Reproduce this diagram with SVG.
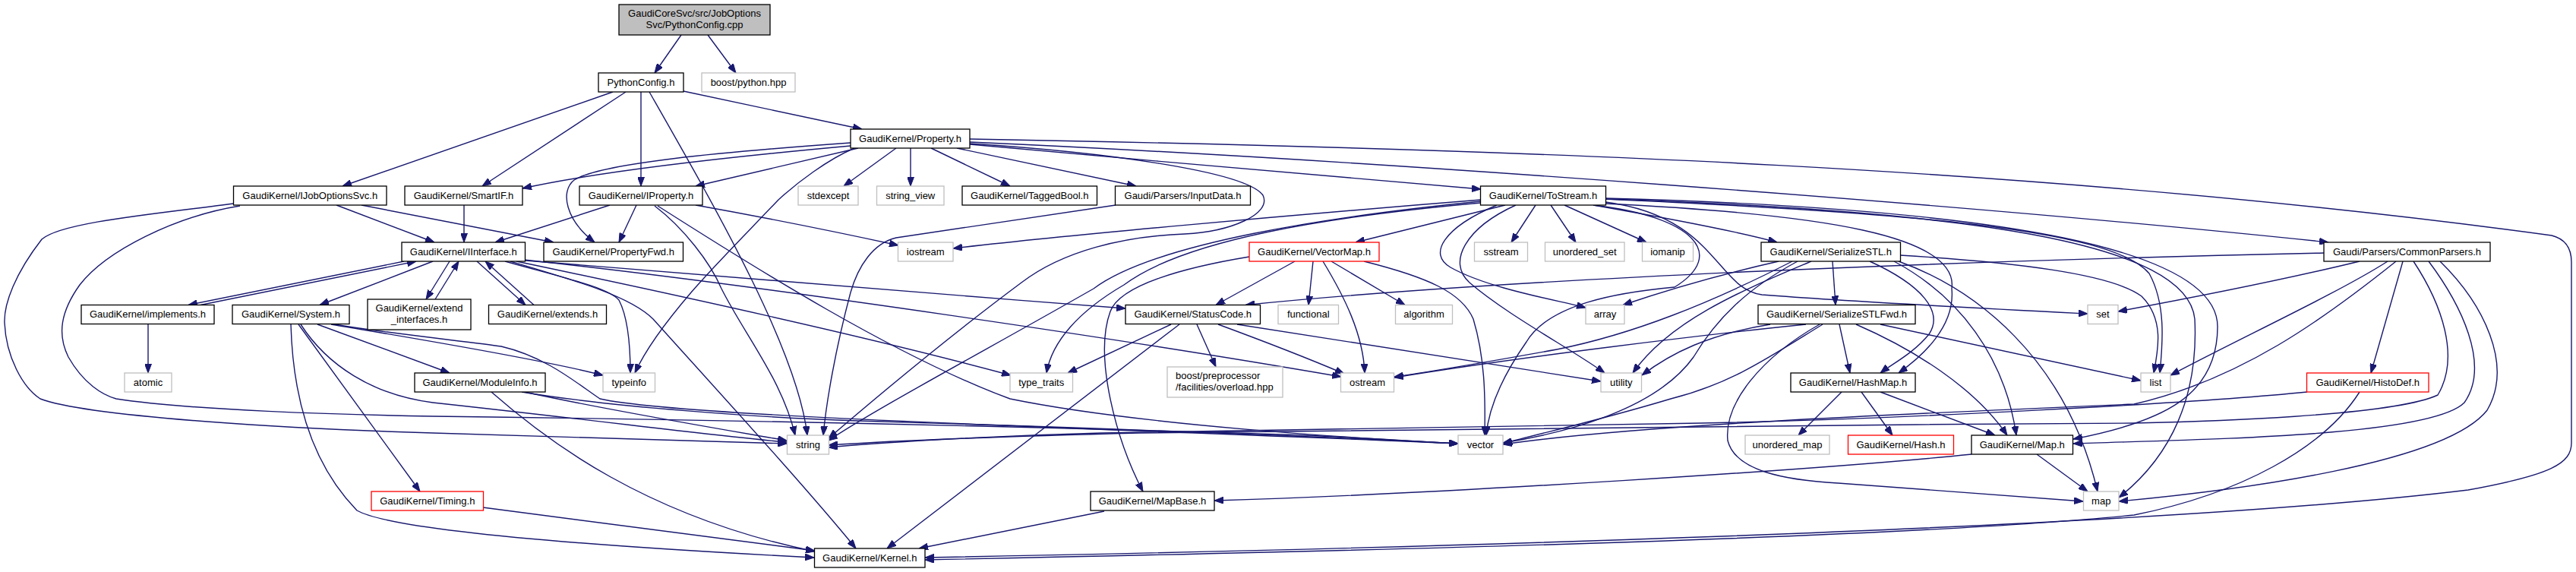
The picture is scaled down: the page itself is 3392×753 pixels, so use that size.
<svg xmlns="http://www.w3.org/2000/svg" width="3392" height="753" viewBox="0 0 3392 753">
<style>
rect{fill:#fff;stroke:#000;stroke-width:1.3}
.x rect{stroke:#bfbfbf}
.r rect{stroke:#ff0000}
.t rect{fill:#bfbfbf}
text{font-family:"Liberation Sans",Arial,Helvetica,sans-serif;font-size:13px;fill:#000;text-anchor:middle}
.l text{text-anchor:start}
#edges path{fill:none;stroke:#191970;stroke-width:1.4;marker-end:url(#ah)}
</style>
<defs>
<marker id="ah" viewBox="0 0 12 9" refX="12" refY="4.5" markerWidth="12" markerHeight="9" orient="auto" markerUnits="userSpaceOnUse">
<path d="M0,0 L12,4.5 L0,9 Z" fill="#191970" stroke="#191970" stroke-width="1"/>
</marker>
</defs>
<rect x="0" y="0" width="3392" height="753" style="fill:#fff;stroke:none"/>
<g id="edges">
<path d="M897,46 L862,96"/>
<path d="M932,46 L969,96"/>
<path d="M807,121 L451,245"/>
<path d="M824,121 L635,245"/>
<path d="M844,121 L844,245"/>
<path d="M900,120 L1135,170"/>
<path d="M855,121 C940,270 1050,460 1063,573"/>
<path d="M1130,195 L916,245"/>
<path d="M1120,188 C950,200 790,215 756,237 C737,252 745,290 783,319"/>
<path d="M1120,192 C900,212 760,232 688,248"/>
<path d="M1180,195 L1111,245"/>
<path d="M1199,195 L1199,245"/>
<path d="M1226,195 L1330,245"/>
<path d="M1260,195 L1496,245"/>
<path d="M1277,190 C1500,210 1800,237 1950,249"/>
<path d="M1277,187 C1800,210 2600,270 3066,319"/>
<path d="M1277,183 C2000,196 2700,220 3360,310 C3380,315 3386,330 3386,345 L3386,583 C3386,610 3360,625 3250,645 C2800,700 1700,725 1218,734"/>
<path d="M1125,195 C1090,210 1050,240 1025,263 C990,300 940,350 910,385 C880,420 850,460 836,491"/>
<path d="M1277,189 C1450,200 1640,225 1663,257 C1675,282 1620,305 1560,308 C1480,311 1400,330 1345,372 C1240,450 1140,535 1091,577"/>
<path d="M443,270 L572,319"/>
<path d="M476,270 L729,319"/>
<path d="M308,268 C200,282 80,293 55,315 C20,360 5,400 6,425 C8,470 30,510 53,525 C120,550 400,565 570,570 C800,578 950,582 1036,584"/>
<path d="M316,271 C230,285 140,330 105,375 C80,410 75,440 90,470 C110,505 135,520 153,525 C250,540 450,546 570,548 C900,552 1300,560 1690,572 C1800,576 1880,582 1920,584"/>
<path d="M611,270 L611,319"/>
<path d="M803,270 L652,319"/>
<path d="M838,270 L815,319"/>
<path d="M916,270 C1000,285 1100,305 1183,323"/>
<path d="M862,271 C900,300 935,345 950,380 C980,440 1030,500 1047,573"/>
<path d="M866,271 C990,350 1180,470 1330,525 C1500,560 1800,578 1920,584"/>
<path d="M532,344 L248,401.5"/>
<path d="M264,401.5 L548,344"/>
<path d="M570,344 L421,401.5"/>
<path d="M592,344 L561,394"/>
<path d="M573,394 L604,344"/>
<path d="M628,344 L692,401.5"/>
<path d="M703,401.5 L639,344"/>
<path d="M692,343 C900,358 1200,385 1482,406"/>
<path d="M665,344 C740,365 800,378 815,395 C828,420 830,460 830,491"/>
<path d="M680,344 C900,390 1150,445 1331,494"/>
<path d="M690,342 C1000,375 1500,450 1766,496"/>
<path d="M672,344 C760,370 830,390 860,420 C950,520 1060,640 1127,722"/>
<path d="M195,427 L195,491"/>
<path d="M418,427 L592,491"/>
<path d="M393,427 L553,647"/>
<path d="M383,427 C385,500 400,600 470,672 C520,700 800,720 1072,734"/>
<path d="M396,427 C430,480 490,520 570,530 C800,555 950,575 1036,582"/>
<path d="M436,427 C500,438 700,470 794,494"/>
<path d="M440,427 C520,440 620,450 660,456 C720,470 760,505 790,525 C900,550 1500,565 1920,584"/>
<path d="M647,516 C720,580 850,680 1073,726"/>
<path d="M691,516 C800,540 950,565 1036,580"/>
<path d="M687,516 C800,535 1000,550 1130,554 C1500,565 1800,578 1920,584"/>
<path d="M636,668 C800,690 950,710 1073,725"/>
<path d="M1542,427 L1406,491"/>
<path d="M1553,427 L1168,722"/>
<path d="M1576,427 L1601,483"/>
<path d="M1604,427 C1680,455 1730,475 1770,492"/>
<path d="M1629,427 L2108,502"/>
<path d="M1729,344 L1723,401.5"/>
<path d="M1753,344 L1850,401.5"/>
<path d="M1742,344 C1770,390 1795,440 1797,491"/>
<path d="M1796,344 C1880,365 1925,385 1940,420 C1955,470 1956,520 1955,573"/>
<path d="M1645,338 C1560,352 1475,375 1462,410 C1440,470 1470,580 1505,647"/>
<path d="M1705,344 L1601,401.5"/>
<path d="M1454,673 L1210,722"/>
<path d="M2596,598 C2400,618 1900,650 1599,659"/>
<path d="M2682,598 L2749,647"/>
<path d="M2425,516 L2368,573"/>
<path d="M2451,516 L2492,573"/>
<path d="M2476,516 L2627,573"/>
<path d="M2422,427 L2436,491"/>
<path d="M2444,427 C2520,460 2600,510 2643,573"/>
<path d="M2476,427 L2819,501"/>
<path d="M2396,427 C2320,470 2270,530 2275,580 C2285,620 2350,632 2420,636 C2550,645 2680,655 2743,660"/>
<path d="M2378,427 C2250,440 2000,470 1836,497"/>
<path d="M2331,427 C2250,440 2200,465 2162,494"/>
<path d="M2400,427 C2330,470 2280,505 2200,525 C2100,555 2030,570 1979,584"/>
<path d="M2413,344 L2417,401.5"/>
<path d="M2342,344 C2280,358 2200,380 2137,401.5"/>
<path d="M2360,344 C2250,400 2150,440 2050,460 C1950,478 1880,490 1836,496"/>
<path d="M2385,344 C2300,380 2200,420 2150,491"/>
<path d="M2367,344 C2300,380 2260,420 2230,470 C2180,540 2060,570 1979,583"/>
<path d="M2462,344 C2530,375 2560,410 2540,440 C2520,465 2490,480 2476,491"/>
<path d="M2494,344 C2580,390 2640,470 2655,573"/>
<path d="M2500,344 C2600,380 2720,470 2762,647"/>
<path d="M2502,336 C2650,345 2780,360 2820,390 C2850,420 2842,460 2836,491"/>
<path d="M1950,263 C1700,283 1400,310 1255,327"/>
<path d="M1982,270 L1785,319"/>
<path d="M2022,270 L1990,319"/>
<path d="M2042,270 L2075,319"/>
<path d="M2060,270 L2168,319"/>
<path d="M2098,270 C2200,288 2290,305 2340,319"/>
<path d="M1950,267 C1750,285 1560,315 1480,375 C1420,410 1385,450 1378,491"/>
<path d="M1950,265 C1750,285 1520,320 1440,380 C1300,460 1150,540 1091,580"/>
<path d="M1971,270 C1900,300 1880,335 1910,352 C1960,380 2050,395 2088,405"/>
<path d="M1996,270 C1930,300 1905,345 1935,372 C1985,415 2070,460 2113,491"/>
<path d="M2098,270 C2230,285 2275,335 2205,378 C2130,385 2040,400 2010,450 C1975,500 1960,540 1957,573"/>
<path d="M2114,266 C2260,285 2260,380 2320,388 C2450,398 2650,408 2749,413"/>
<path d="M2114,262 C2500,280 2780,300 2830,360 C2852,400 2848,450 2844,491"/>
<path d="M2114,262 C2600,278 2880,320 2890,420 C2895,520 2860,600 2790,655"/>
<path d="M2114,261 C2650,275 2920,330 2920,430 C2920,520 2850,555 2730,578"/>
<path d="M2114,268 C2400,282 2580,310 2570,380 C2575,430 2530,470 2500,491"/>
<path d="M3060,333 C2600,343 2000,365 1640,401.5"/>
<path d="M3107,344 C3000,370 2870,395 2789,410"/>
<path d="M3144,344 C3080,385 2950,445 2858,494"/>
<path d="M3164,344 L3122,491"/>
<path d="M3155,344 C3060,420 2950,500 2810,532 C2500,545 2150,560 1979,585"/>
<path d="M3178,344 C3215,400 3240,470 3210,520 C3150,548 2900,555 2810,557 C2300,560 1700,566 1500,570 C1300,575 1150,582 1091,586"/>
<path d="M3198,344 C3240,400 3280,480 3245,530 C3200,575 2900,578 2730,584"/>
<path d="M3213,344 C3270,400 3310,480 3275,540 C3220,610 2950,645 2790,660"/>
<path d="M3038,516 C2900,530 2500,552 2240,557 C1900,562 1600,566 1450,570 C1300,574 1150,583 1091,589"/>
<path d="M3107,516 C3060,590 2950,650 2810,678 C2500,710 1700,727 1218,737"/>
<path d="M1469,270 L1180,313 C1150,320 1130,350 1120,385 C1100,460 1088,530 1084,573"/>
</g>
<g id="n0" class="t"><rect x="815" y="6" width="199" height="40"/><text x="914.5" y="21.5">GaudiCoreSvc/src/JobOptions</text><text x="914.5" y="36.5">Svc/PythonConfig.cpp</text></g>
<g id="n1"><rect x="788" y="96" width="112" height="25"/><text x="844" y="112.5">PythonConfig.h</text></g>
<g id="n2" class="x"><rect x="924" y="96" width="123" height="25"/><text x="985.5" y="112.5">boost/python.hpp</text></g>
<g id="n3"><rect x="1120" y="170" width="157" height="25"/><text x="1198.5" y="186.5">GaudiKernel/Property.h</text></g>
<g id="n4"><rect x="307.5" y="245" width="201.5" height="25"/><text x="408.25" y="261.5">GaudiKernel/IJobOptionsSvc.h</text></g>
<g id="n5"><rect x="533" y="245" width="155" height="25"/><text x="610.5" y="261.5">GaudiKernel/SmartIF.h</text></g>
<g id="n6"><rect x="763" y="245" width="162" height="25"/><text x="844" y="261.5">GaudiKernel/IProperty.h</text></g>
<g id="n7" class="x"><rect x="1051" y="245" width="79" height="25"/><text x="1090.5" y="261.5">stdexcept</text></g>
<g id="n8" class="x"><rect x="1154.5" y="245" width="88.5" height="25"/><text x="1198.75" y="261.5">string_view</text></g>
<g id="n9"><rect x="1267" y="245" width="177.5" height="25"/><text x="1355.75" y="261.5">GaudiKernel/TaggedBool.h</text></g>
<g id="n10"><rect x="1468.5" y="245" width="178" height="25"/><text x="1557.5" y="261.5">Gaudi/Parsers/InputData.h</text></g>
<g id="n11"><rect x="1949.5" y="245" width="165" height="25"/><text x="2032" y="261.5">GaudiKernel/ToStream.h</text></g>
<g id="n12"><rect x="529" y="319" width="162.5" height="25"/><text x="610.25" y="335.5">GaudiKernel/IInterface.h</text></g>
<g id="n13"><rect x="716" y="319" width="183.5" height="25"/><text x="807.75" y="335.5">GaudiKernel/PropertyFwd.h</text></g>
<g id="n14" class="x"><rect x="1182.5" y="319" width="72.5" height="25"/><text x="1218.75" y="335.5">iostream</text></g>
<g id="n15" class="r"><rect x="1645" y="319" width="171" height="25"/><text x="1730.5" y="335.5">GaudiKernel/VectorMap.h</text></g>
<g id="n16" class="x"><rect x="1941.5" y="319" width="70" height="25"/><text x="1976.5" y="335.5">sstream</text></g>
<g id="n17" class="x"><rect x="2034.5" y="319" width="104.5" height="25"/><text x="2086.75" y="335.5">unordered_set</text></g>
<g id="n18" class="x"><rect x="2162.5" y="319" width="67" height="25"/><text x="2196" y="335.5">iomanip</text></g>
<g id="n19"><rect x="2319" y="319" width="183.5" height="25"/><text x="2410.75" y="335.5">GaudiKernel/SerializeSTL.h</text></g>
<g id="n20"><rect x="3060" y="319" width="219" height="25"/><text x="3169.5" y="335.5">Gaudi/Parsers/CommonParsers.h</text></g>
<g id="n21"><rect x="107" y="401.5" width="175" height="25"/><text x="194.5" y="418">GaudiKernel/implements.h</text></g>
<g id="n22"><rect x="306" y="401.5" width="154" height="25"/><text x="383" y="418">GaudiKernel/System.h</text></g>
<g id="n23"><rect x="484" y="394" width="136" height="40"/><text x="552" y="409.5">GaudiKernel/extend</text><text x="552" y="424.5">_interfaces.h</text></g>
<g id="n24"><rect x="643.5" y="401.5" width="155" height="25"/><text x="721" y="418">GaudiKernel/extends.h</text></g>
<g id="n25"><rect x="1482" y="401.5" width="177.5" height="25"/><text x="1570.75" y="418">GaudiKernel/StatusCode.h</text></g>
<g id="n26" class="x"><rect x="1683" y="401.5" width="79.5" height="25"/><text x="1722.75" y="418">functional</text></g>
<g id="n27" class="x"><rect x="1837.5" y="401.5" width="75" height="25"/><text x="1875" y="418">algorithm</text></g>
<g id="n28" class="x"><rect x="2088" y="401.5" width="51" height="25"/><text x="2113.5" y="418">array</text></g>
<g id="n29"><rect x="2315" y="401.5" width="207" height="25"/><text x="2418.5" y="418">GaudiKernel/SerializeSTLFwd.h</text></g>
<g id="n30" class="x"><rect x="2749" y="401.5" width="40" height="25"/><text x="2769" y="418">set</text></g>
<g id="n31" class="x"><rect x="164" y="491" width="62" height="25"/><text x="195" y="507.5">atomic</text></g>
<g id="n32"><rect x="546" y="491" width="172" height="25"/><text x="632" y="507.5">GaudiKernel/ModuleInfo.h</text></g>
<g id="n33" class="x"><rect x="794" y="491" width="68.5" height="25"/><text x="828.25" y="507.5">typeinfo</text></g>
<g id="n34" class="x"><rect x="1330" y="491" width="82.5" height="25"/><text x="1371.25" y="507.5">type_traits</text></g>
<g id="n35" class="x l"><rect x="1537" y="483" width="152" height="40"/><text x="1548" y="498.5">boost/preprocessor</text><text x="1548" y="513.5">/facilities/overload.hpp</text></g>
<g id="n36" class="x"><rect x="1765.5" y="491" width="70" height="25"/><text x="1800.5" y="507.5">ostream</text></g>
<g id="n37" class="x"><rect x="2108" y="491" width="53.5" height="25"/><text x="2134.75" y="507.5">utility</text></g>
<g id="n38"><rect x="2358" y="491" width="164" height="25"/><text x="2440" y="507.5">GaudiKernel/HashMap.h</text></g>
<g id="n39" class="x"><rect x="2819" y="491" width="39" height="25"/><text x="2838.5" y="507.5">list</text></g>
<g id="n40" class="r"><rect x="3037.5" y="491" width="160.5" height="25"/><text x="3117.75" y="507.5">GaudiKernel/HistoDef.h</text></g>
<g id="n41" class="x"><rect x="1036.5" y="573" width="55" height="25"/><text x="1064" y="589.5">string</text></g>
<g id="n42" class="x"><rect x="1920" y="573" width="59" height="25"/><text x="1949.5" y="589.5">vector</text></g>
<g id="n43" class="x"><rect x="2298" y="573" width="111" height="25"/><text x="2353.5" y="589.5">unordered_map</text></g>
<g id="n44" class="r"><rect x="2433.5" y="573" width="139" height="25"/><text x="2503" y="589.5">GaudiKernel/Hash.h</text></g>
<g id="n45"><rect x="2596" y="573" width="133.5" height="25"/><text x="2662.75" y="589.5">GaudiKernel/Map.h</text></g>
<g id="n46" class="r"><rect x="489" y="647" width="147.5" height="25"/><text x="562.75" y="663.5">GaudiKernel/Timing.h</text></g>
<g id="n47"><rect x="1436" y="647" width="163" height="25"/><text x="1517.5" y="663.5">GaudiKernel/MapBase.h</text></g>
<g id="n48" class="x"><rect x="2743.5" y="647" width="46.5" height="25"/><text x="2766.75" y="663.5">map</text></g>
<g id="n49"><rect x="1072.5" y="722" width="145.5" height="25"/><text x="1145.25" y="738.5">GaudiKernel/Kernel.h</text></g>
</svg>
